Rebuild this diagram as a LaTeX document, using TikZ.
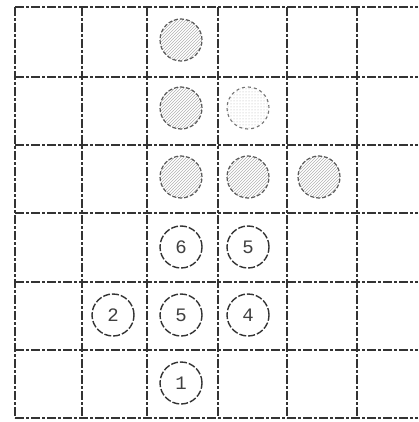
\documentclass[tikz,border=0pt]{standalone}
\usepackage{fontspec}
\setmonofont{Liberation Mono}
\usetikzlibrary{patterns}
\begin{document}
\begin{tikzpicture}[x=1pt,y=-1pt,
  gridline/.style={draw=black!80,line width=1.8pt,dash pattern=on 9pt off 2pt on 3pt off 2pt},
  numcirc/.style={circle,draw=black!80,line width=1.4pt,dash pattern=on 7pt off 2pt,minimum size=42pt,inner sep=0pt,font=\ttfamily\fontsize{19}{19}\selectfont,text=black!75},
  shadecirc/.style={circle,draw=black!65,line width=1.2pt,dash pattern=on 4pt off 2pt,minimum size=42pt,inner sep=0pt,pattern=north east lines,pattern color=black!30},
  lightcirc/.style={circle,draw=black!55,line width=1.1pt,dash pattern=on 3pt off 3pt,minimum size=42pt,inner sep=0pt,pattern=dots,pattern color=black!30}]
\useasboundingbox (0,0) rectangle (418,422);
\fill[white] (0,0) rectangle (418,422);
% horizontal lines
\foreach \y in {7,77,145,213,282,350,418}
  \draw[gridline] (15,\y) -- (418,\y);
% vertical lines
\foreach \x in {15,82,147,218,287,357}
  \draw[gridline] (\x,7) -- (\x,418);
% shaded circles
\node[shadecirc] (s13) at (181,40) {};
\node[shadecirc] (s23) at (181,108) {};
\node[lightcirc] (s24) at (248,108) {};
\node[shadecirc] (s33) at (181,177) {};
\node[shadecirc] (s34) at (248,177) {};
\node[shadecirc] (s35) at (319,177) {};
% numbered circles
\node[numcirc] (n43) at (181,247) {6};
\node[numcirc] (n44) at (248,247) {5};
\node[numcirc] (n52) at (113,315) {2};
\node[numcirc] (n53) at (181,315) {5};
\node[numcirc] (n54) at (248,315) {4};
\node[numcirc] (n63) at (181,383) {1};
\end{tikzpicture}
\end{document}
